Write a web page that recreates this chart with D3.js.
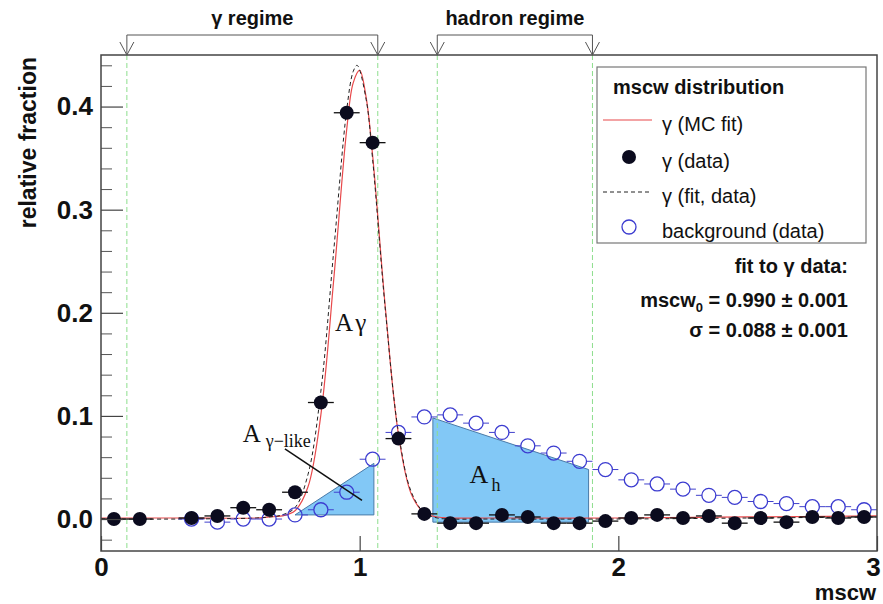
<!DOCTYPE html>
<html><head><meta charset="utf-8">
<script src="https://cdn.jsdelivr.net/npm/d3@7/dist/d3.min.js"></script>
<style>
html,body{margin:0;padding:0;background:#fff;}
svg{display:block;}
</style></head>
<body>
<svg id="chart" width="883" height="604"></svg>
<script>
// ---------- data ----------
const gammaX = [0.05,0.15,0.35,0.45,0.55,0.65,0.75,0.85,0.95,1.05,1.15,1.25,1.35,1.45,1.55,1.65,1.75,1.85,1.95,2.05,2.15,2.25,2.35,2.45,2.55,2.65,2.75,2.85,2.95];
const gammaY = [0.000,0.000,0.001,0.003,0.011,0.009,0.026,0.113,0.394,0.365,0.078,0.005,-0.004,-0.004,0.004,0.002,-0.004,-0.004,-0.002,0.001,0.004,0.001,0.003,-0.004,0.001,-0.003,0.002,0.001,0.002];
const bgX = [0.35,0.45,0.55,0.65,0.75,0.85,0.95,1.05,1.15,1.25,1.35,1.45,1.55,1.65,1.75,1.85,1.95,2.05,2.15,2.25,2.35,2.45,2.55,2.65,2.75,2.85,2.95];
const bgY = [0.000,-0.003,0.000,0.000,0.004,0.009,0.026,0.058,0.084,0.099,0.101,0.093,0.084,0.071,0.064,0.056,0.048,0.038,0.034,0.029,0.023,0.021,0.017,0.015,0.012,0.012,0.009];
const binHalfWidth = 0.05;

const mcFitX = [0,0.3,0.6,0.65,0.7,0.75,0.8,0.85,0.9,0.95,0.975,1.0,1.025,1.05,1.1,1.15,1.2,1.25,1.3,1.35,1.5,2.0,2.5,3.0];
const mcFitY = [0.001,0.001,0.001,0.002,0.003,0.008,0.031,0.101,0.233,0.378,0.423,0.435,0.409,0.353,0.203,0.082,0.024,0.006,0.002,0.001,0.001,0.001,0.002,0.003];
const dataFitX = [0,0.3,0.6,0.65,0.7,0.75,0.8,0.85,0.9,0.95,0.975,0.99,1.025,1.05,1.1,1.15,1.2,1.25,1.3,1.35,1.5,2.0,2.5,3.0];
const dataFitY = [0.000,0.000,0.001,0.002,0.004,0.011,0.043,0.124,0.261,0.397,0.434,0.440,0.407,0.349,0.201,0.084,0.026,0.006,0.001,0.000,0.000,0.000,0.001,0.002];

const aGammaLikeX = [0.75,1.055,1.055];
const aGammaLikeY = [0.004,0.054,0.004];
const aHadronX = [1.283,1.885,1.885,1.283];
const aHadronY = [0.098,0.048,-0.003,-0.003];

const cutLines = [0.1,1.07,1.3,1.9];
const regimes = [{label:"γ regime", from:0.1, to:1.07},{label:"hadron regime", from:1.3, to:1.9}];

const xTicks = [0,1,2,3];
const yTicks = [0,0.1,0.2,0.3,0.4];
const yMinorTicks = [-0.02,0.02,0.04,0.06,0.08,0.12,0.14,0.16,0.18,0.22,0.24,0.26,0.28,0.32,0.34,0.36,0.38,0.42,0.44];

const legendEntries = [
  {label:"γ (MC fit)", type:"redline"},
  {label:"γ (data)", type:"dot"},
  {label:"γ (fit, data)", type:"dashed"},
  {label:"background (data)", type:"circle"}
];
const legendTitle = "mscw distribution";
const fitLines = ["fit to γ data:", "mscw|0| = 0.990 ± 0.001", "σ = 0.088 ± 0.001"];

// ---------- layout ----------
const svg = d3.select("#chart");
const L = 101, R = 877, T = 55, B = 551;
const x = d3.scaleLinear().domain([0,3]).range([L,R]);
const y = d3.scaleLinear().domain([-0.031,0.45]).range([B,T]);
const SANS = "'Liberation Sans', Arial, Helvetica, sans-serif";
const SERIF = "'Liberation Serif', 'Times New Roman', serif";

svg.append("defs").append("clipPath").attr("id","clip")
  .append("rect").attr("x",L).attr("y",T).attr("width",R-L).attr("height",B-T);

const plot = svg.append("g").attr("clip-path","url(#clip)");

// shaded areas
const poly = (xs,ys)=> xs.map((v,i)=>[x(v),y(ys[i])].join(",")).join(" ");
plot.append("polygon").attr("points",poly(aGammaLikeX,aGammaLikeY))
  .attr("fill","#82c8f6").attr("stroke","#4a7aa8").attr("stroke-width",1);
plot.append("polygon").attr("points",poly(aHadronX,aHadronY))
  .attr("fill","#82c8f6").attr("stroke","#4a7aa8").attr("stroke-width",1);

// green cut lines
plot.selectAll("line.cut").data(cutLines).join("line").attr("class","cut")
  .attr("x1",d=>x(d)).attr("x2",d=>x(d)).attr("y1",T).attr("y2",B)
  .attr("stroke","#8ede8e").attr("stroke-width",1).attr("stroke-dasharray","5,3");

// y axis ticks (inside)
const yAxisMajor = d3.axisLeft(y).tickValues(yTicks).tickSize(-22).tickPadding(8).tickFormat(d3.format(".1f"));
const gy = svg.append("g").attr("transform",`translate(${L},0)`).call(yAxisMajor);
gy.select(".domain").remove();
gy.selectAll("line").attr("stroke","#444").attr("stroke-width",1.2);
gy.selectAll("text").attr("font-family",SANS).attr("font-weight","bold").attr("font-size",26).attr("fill","#111");
const gym = svg.append("g").attr("transform",`translate(${L},0)`).call(d3.axisLeft(y).tickValues(yMinorTicks).tickSize(-11).tickFormat(""));
gym.select(".domain").remove();
gym.selectAll("line").attr("stroke","#555").attr("stroke-width",1);

// x axis
const gx = svg.append("g").attr("transform",`translate(0,${B})`)
  .call(d3.axisBottom(x).tickValues(xTicks).tickSize(-15).tickPadding(7).tickFormat(d3.format("d")));
gx.select(".domain").remove();
gx.selectAll("line").attr("stroke","#444").attr("stroke-width",1.2);
gx.selectAll("text").attr("font-family",SANS).attr("font-weight","bold").attr("font-size",26).attr("fill","#111")
  .attr("dx",d=> d===3 ? -4 : 0);

// fit curves
const lineGen = d3.line().curve(d3.curveCatmullRom.alpha(0.5));
plot.append("path").attr("d",lineGen(mcFitX.map((v,i)=>[x(v),y(mcFitY[i])])))
  .attr("fill","none").attr("stroke","#e8484a").attr("stroke-width",1.2);
plot.append("path").attr("d",lineGen(dataFitX.map((v,i)=>[x(v),y(dataFitY[i])])))
  .attr("fill","none").attr("stroke","#222").attr("stroke-width",1).attr("stroke-dasharray","4,3");

// background open circles
const bg = plot.append("g");
bgX.forEach((v,i)=>{
  bg.append("line").attr("x1",x(v-binHalfWidth)).attr("x2",x(v)-7)
    .attr("y1",y(bgY[i])).attr("y2",y(bgY[i])).attr("stroke","#4040cc").attr("stroke-width",1);
  bg.append("line").attr("x1",x(v)+7).attr("x2",x(v+binHalfWidth))
    .attr("y1",y(bgY[i])).attr("y2",y(bgY[i])).attr("stroke","#4040cc").attr("stroke-width",1);
  bg.append("circle").attr("cx",x(v)).attr("cy",y(bgY[i])).attr("r",7)
    .attr("fill","none").attr("stroke","#3c3cd0").attr("stroke-width",1.3);
});

// gamma data dots
const gd = plot.append("g");
gammaX.forEach((v,i)=>{
  gd.append("line").attr("x1",x(v-binHalfWidth)).attr("x2",x(v+binHalfWidth))
    .attr("y1",y(gammaY[i])).attr("y2",y(gammaY[i])).attr("stroke","#111").attr("stroke-width",1.3);
  gd.append("circle").attr("cx",x(v)).attr("cy",y(gammaY[i])).attr("r",7).attr("fill","#0b0b1e");
});

// annotations
svg.append("line").attr("x1",x(0.711)).attr("y1",y(0.068)).attr("x2",x(1.009)).attr("y2",y(0.018))
  .attr("stroke","#111").attr("stroke-width",1.5);
const t1 = svg.append("text").attr("x",x(0.548)).attr("y",y(0.075)).attr("font-family",SERIF).attr("font-size",25).attr("fill","#111");
t1.append("tspan").text("A ");
t1.append("tspan").attr("dy",5).attr("font-size",18).text("γ−like");
const t2 = svg.append("text").attr("x",x(0.905)).attr("y",y(0.182)).attr("font-family",SERIF).attr("font-size",25).attr("fill","#111");
t2.append("tspan").text("A");
t2.append("tspan").attr("dx",2).text("γ");
const t3 = svg.append("text").attr("x",x(1.425)).attr("y",y(0.035)).attr("font-family",SERIF).attr("font-size",26).attr("fill","#111");
t3.append("tspan").text("A");
t3.append("tspan").attr("dx",3).attr("dy",8).attr("font-size",18).text("h");

// frame
svg.append("rect").attr("x",L).attr("y",T).attr("width",R-L).attr("height",B-T)
  .attr("fill","none").attr("stroke","#444").attr("stroke-width",1.5);

// regime brackets
const brY = 35;
regimes.forEach(r=>{
  const x1 = x(r.from), x2 = x(r.to);
  const g = svg.append("g").attr("stroke","#555").attr("stroke-width",1).attr("fill","none");
  g.append("path").attr("d",`M${x1},${T} L${x1},${brY} L${x2},${brY} L${x2},${T}`);
  [x1,x2].forEach(xx=> g.append("path").attr("d",`M${xx-7},${T-13} L${xx},${T} L${xx+7},${T-13}`));
  svg.append("text").attr("x",(x1+x2)/2).attr("y",25).attr("text-anchor","middle")
    .attr("font-family",SANS).attr("font-weight","bold").attr("font-size",20).attr("fill","#111").text(r.label);
});

// axis titles
svg.append("text").attr("transform","translate(36,57) rotate(-90)").attr("text-anchor","end")
  .attr("font-family",SANS).attr("font-weight","bold").attr("font-size",23).attr("fill","#111").text("relative fraction");
svg.append("text").attr("x",876).attr("y",600).attr("text-anchor","end")
  .attr("font-family",SANS).attr("font-weight","bold").attr("font-size",22).attr("fill","#111").text("mscw");

// legend
const lg = svg.append("g");
lg.append("rect").attr("x",597).attr("y",67).attr("width",269).attr("height",176)
  .attr("fill","#fff").attr("stroke","#777").attr("stroke-width",1.2);
lg.append("text").attr("x",613).attr("y",94).attr("font-family",SANS).attr("font-weight","bold")
  .attr("font-size",20).attr("fill","#111").text(legendTitle);
const rowY = [120,157,192,227];
legendEntries.forEach((e,i)=>{
  const yy = rowY[i];
  if(e.type==="redline") lg.append("line").attr("x1",603).attr("x2",652).attr("y1",yy).attr("y2",yy).attr("stroke","#e8484a").attr("stroke-width",1.2);
  if(e.type==="dashed") lg.append("line").attr("x1",603).attr("x2",652).attr("y1",yy).attr("y2",yy).attr("stroke","#222").attr("stroke-dasharray","4,3");
  if(e.type==="dot") lg.append("circle").attr("cx",629).attr("cy",yy).attr("r",7).attr("fill","#0b0b1e");
  if(e.type==="circle") lg.append("circle").attr("cx",629).attr("cy",yy).attr("r",7).attr("fill","none").attr("stroke","#3c3cd0").attr("stroke-width",1.3);
  lg.append("text").attr("x",662).attr("y",yy+11).attr("font-family",SANS).attr("font-size",20).attr("fill","#111").text(e.label);
});

// fit result text
const fitY = [273,307,337];
fitLines.forEach((s,i)=>{
  const t = svg.append("text").attr("x",848).attr("y",fitY[i]).attr("text-anchor","end")
    .attr("font-family",SANS).attr("font-weight","bold").attr("font-size",20).attr("fill","#111");
  const parts = s.split("|");
  if(parts.length===1){ t.text(s); }
  else {
    t.append("tspan").text(parts[0]);
    t.append("tspan").attr("dy",5).attr("font-size",13).text(parts[1]);
    t.append("tspan").attr("dy",-5).text(parts[2]);
  }
});
</script>
</body></html>
